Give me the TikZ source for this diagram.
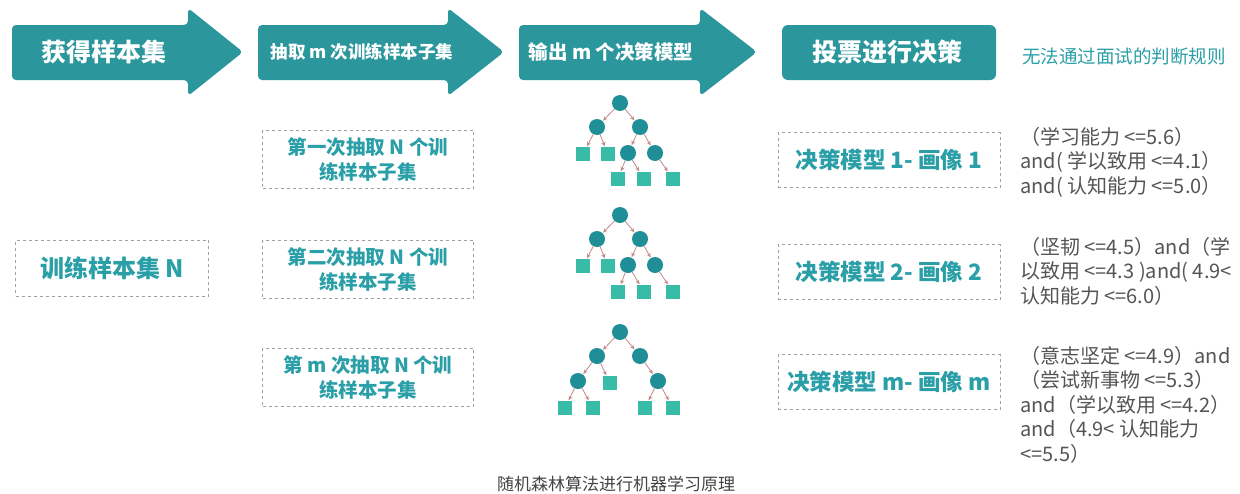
\documentclass[tikz,border=0pt]{standalone}
\usepackage{fontspec}
\setmainfont{Noto Sans CJK SC}
\usetikzlibrary{arrows.meta}
\definecolor{hdr}{HTML}{2B979D}
\definecolor{boxtxt}{HTML}{2A9FA7}
\definecolor{cdark}{HTML}{1F8E96}
\definecolor{cleaf}{HTML}{38BCA8}
\definecolor{edgec}{HTML}{C08A8A}
\definecolor{rtxt}{HTML}{555555}
\tikzset{
  hdrarrow/.style={fill=hdr, rounded corners=4pt},
  hdrtext/.style={text=white, font=\bfseries},
  dbox/.style={draw=gray!75, dash pattern=on 3pt off 3pt, line width=0.8pt, text=boxtxt, font=\fontsize{19.5}{25}\selectfont\bfseries, align=center, inner sep=0pt},
  tc/.style={circle, fill=cdark, minimum size=16pt, inner sep=0pt},
  tl/.style={rectangle, fill=cleaf, minimum size=14pt, inner sep=0pt},
  tedge/.style={draw=edgec, line width=0.8pt, -{Stealth[length=4.5pt,width=4pt]}, shorten >=0.5pt},
  rule/.style={text=rtxt, font=\fontsize{20}{24.5}\selectfont, align=left, anchor=north west, inner sep=0pt}
}
\begin{document}
\begin{tikzpicture}[x=1pt,y=-1pt]
\useasboundingbox (0,0) rectangle (1240,493);
\fill[white] (0,0) rectangle (1240,493);
% header arrows
\fill[hdrarrow] (12,25) -- (188,25) -- (188,8) -- (243,52) -- (188,96) -- (188,80) -- (12,80) -- cycle;
\node[hdrtext, font=\fontsize{25}{28}\selectfont\bfseries] (h1) at (104,52) {获得样本集};
\fill[hdrarrow] (258,25) -- (448,25) -- (448,8) -- (504,52) -- (448,96) -- (448,80) -- (258,80) -- cycle;
\node[hdrtext, font=\fontsize{17.5}{20}\selectfont\bfseries] (h2) at (362,52) {抽取 m 次训练样本子集};
\fill[hdrarrow] (519,25) -- (700,25) -- (700,8) -- (757,52) -- (700,96) -- (700,80) -- (519,80) -- cycle;
\node[hdrtext, font=\fontsize{19.5}{22}\selectfont\bfseries] (h3) at (611,52) {输出 m 个决策模型};
\fill[hdr, rounded corners=6pt] (782,25) rectangle (996,80);
\node[hdrtext, font=\fontsize{25}{28}\selectfont\bfseries] (h4) at (887,52) {投票进行决策};
\node[text=boxtxt, font=\fontsize{18.5}{22}\selectfont] (h5) at (1124,56) {无法通过面试的判断规则};
% dashed boxes
\node[dbox, minimum width=193pt, minimum height=56pt, font=\fontsize{24}{28}\selectfont\bfseries] (src) at (112,268) {训练样本集 N};
\node[dbox, minimum width=211pt, minimum height=58pt] (s1) at (368,159) {第一次抽取 N 个训\\练样本子集};
\node[dbox, minimum width=211pt, minimum height=58pt] (s2) at (368,269) {第二次抽取 N 个训\\练样本子集};
\node[dbox, minimum width=211pt, minimum height=58pt] (s3) at (368,377) {第 m 次抽取 N 个训\\练样本子集};
\node[dbox, minimum width=222pt, minimum height=55pt, font=\fontsize{22.5}{28}\selectfont\bfseries] (m1) at (889,160) {决策模型 1- 画像 1};
\node[dbox, minimum width=222pt, minimum height=55pt, font=\fontsize{22.5}{28}\selectfont\bfseries] (m2) at (889,272) {决策模型 2- 画像 2};
\node[dbox, minimum width=222pt, minimum height=55pt, font=\fontsize{22.5}{28}\selectfont\bfseries] (m3) at (889,382) {决策模型 m- 画像 m};
% tree 1
\node[tc] (a0) at (620,103) {};
\node[tc] (a1) at (597,127) {};
\node[tc] (a2) at (640,127) {};
\node[tl] (a3) at (583,154) {};
\node[tl] (a4) at (608,154) {};
\node[tc] (a5) at (628,153) {};
\node[tc] (a6) at (655,153) {};
\node[tl] (a7) at (618,179) {};
\node[tl] (a8) at (644,179) {};
\node[tl] (a9) at (673,179) {};
\foreach \p/\c in {a0/a1,a0/a2,a1/a3,a1/a4,a2/a5,a2/a6,a5/a7,a5/a8,a6/a9}
  \draw[tedge] (\p) -- (\c);
% tree 2
\node[tc] (b0) at (620,215) {};
\node[tc] (b1) at (597,239) {};
\node[tc] (b2) at (640,239) {};
\node[tl] (b3) at (583,266) {};
\node[tl] (b4) at (608,266) {};
\node[tc] (b5) at (628,265) {};
\node[tc] (b6) at (655,265) {};
\node[tl] (b7) at (618,292) {};
\node[tl] (b8) at (644,292) {};
\node[tl] (b9) at (673,292) {};
\foreach \p/\c in {b0/b1,b0/b2,b1/b3,b1/b4,b2/b5,b2/b6,b5/b7,b5/b8,b6/b9}
  \draw[tedge] (\p) -- (\c);
% tree 3
\node[tc] (c0) at (620,332) {};
\node[tc] (c1) at (597,356) {};
\node[tc] (c2) at (640,356) {};
\node[tc] (c3) at (578,381) {};
\node[tl] (c4) at (610,383) {};
\node[tc] (c5) at (658,381) {};
\node[tl] (c6) at (565,408) {};
\node[tl] (c7) at (593,408) {};
\node[tl] (c8) at (645,408) {};
\node[tl] (c9) at (673,408) {};
\foreach \p/\c in {c0/c1,c0/c2,c1/c3,c1/c4,c2/c5,c3/c6,c3/c7,c5/c8,c5/c9}
  \draw[tedge] (\p) -- (\c);
% rules
\node[rule] (r1) at (1020,127) {（学习能力 <=5.6）\\and( 学以致用 <=4.1）\\and( 认知能力 <=5.0）};
\node[rule] (r2) at (1020,237) {（坚韧 <=4.5）and（学\\以致用 <=4.3 )and( 4.9<\\认知能力 <=6.0）};
\node[rule] (r3) at (1020,346) {（意志坚定 <=4.9）and\\（尝试新事物 <=5.3）\\and（学以致用 <=4.2）\\and（4.9< 认知能力\\<=5.5）};
% caption
\node[text=rtxt!80!black, font=\fontsize{17}{20}\selectfont] (cap) at (616,484) {随机森林算法进行机器学习原理};
\end{tikzpicture}
\end{document}
